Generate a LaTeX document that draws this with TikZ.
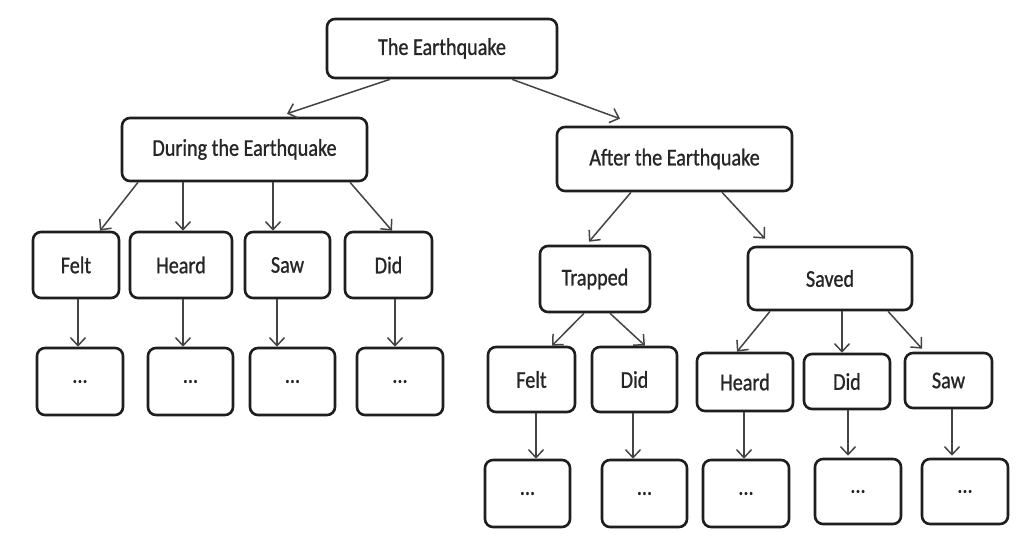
\documentclass[tikz,border=0pt]{standalone}
\usepackage{fontspec}
\setmainfont{Carlito}[FakeStretch=0.84,FakeBold=0.9]
\usetikzlibrary{arrows.meta}
\definecolor{txt}{HTML}{262626}
\definecolor{bord}{HTML}{1E1E1E}
\definecolor{arr}{HTML}{444444}
\tikzset{
  box/.style={draw=bord, line width=2.6pt, rounded corners=8pt, inner sep=0pt,
    text=txt, font=\fontsize{24}{28}\selectfont, fill=white},
  conn/.style={draw=arr, line width=1.5pt, -{Straight Barb[length=8pt,width=15pt,line width=1.5pt]}},
}
\begin{document}
\begin{tikzpicture}[x=1pt,y=-1pt]
\useasboundingbox[fill=white] (0,0) rectangle (1025,541);
% level 0
\node[box, minimum width=230pt, minimum height=59pt] (top) at (442,48.5) {The Earthquake};
% level 1
\node[box, minimum width=245pt, minimum height=63pt] (during) at (244.5,149.5) {During the Earthquake};
\node[box, minimum width=235pt, minimum height=64pt] (after) at (674.5,159) {After the Earthquake};
% left level 2
\node[box, minimum width=86pt, minimum height=66pt] (lfelt) at (76,265) {Felt};
\node[box, minimum width=102pt, minimum height=66pt] (lheard) at (181,265) {Heard};
\node[box, minimum width=85pt, minimum height=66pt] (lsaw) at (287.5,265) {Saw};
\node[box, minimum width=87pt, minimum height=66pt] (ldid) at (388.5,265) {Did};
% left level 3
\node[box, minimum width=86pt, minimum height=67pt] (ld1) at (80,381.5) {...};
\node[box, minimum width=85pt, minimum height=67pt] (ld2) at (190.5,381.5) {...};
\node[box, minimum width=85pt, minimum height=67pt] (ld3) at (292.5,381.5) {...};
\node[box, minimum width=86pt, minimum height=67pt] (ld4) at (400,381.5) {...};
% right level 2
\node[box, minimum width=110pt, minimum height=66pt] (trapped) at (595,279) {Trapped};
\node[box, minimum width=164pt, minimum height=63pt] (saved) at (830,278.5) {Saved};
% right level 3
\node[box, minimum width=87pt, minimum height=65pt] (rfelt) at (531.5,379.5) {Felt};
\node[box, minimum width=85pt, minimum height=65pt] (rdid) at (634.5,379.5) {Did};
\node[box, minimum width=96pt, minimum height=58pt] (rheard) at (745,382) {Heard};
\node[box, minimum width=86pt, minimum height=55pt] (rdidb) at (847,381.5) {Did};
\node[box, minimum width=87pt, minimum height=55pt] (rsaw) at (948.5,380.5) {Saw};
% right level 4
\node[box, minimum width=85pt, minimum height=67pt] (rd1) at (527.5,493.5) {...};
\node[box, minimum width=85pt, minimum height=67pt] (rd2) at (644.5,493.5) {...};
\node[box, minimum width=86pt, minimum height=67pt] (rd3) at (746,493.5) {...};
\node[box, minimum width=86pt, minimum height=65pt] (rd4) at (858,491.5) {...};
\node[box, minimum width=86pt, minimum height=65pt] (rd5) at (965,491.5) {...};
% connectors
\draw[conn] ([xshift=-52pt]top.south) -- ([xshift=42.5pt,yshift=3pt]during.north);
\draw[conn] ([xshift=70pt]top.south) -- ([xshift=-54.5pt,yshift=7pt]after.north);
\draw[conn] ([xshift=-106.5pt]during.south) -- ([xshift=24pt]lfelt.north);
\draw[conn] ([xshift=-61.5pt]during.south) -- ([xshift=2pt]lheard.north);
\draw[conn] ([xshift=28.5pt]during.south) -- ([xshift=-14.5pt]lsaw.north);
\draw[conn] ([xshift=105.5pt]during.south) -- ([xshift=3.5pt]ldid.north);
\draw[conn] ([xshift=2pt]lfelt.south) -- ([xshift=2pt]lfelt.south |- ld1.north);
\draw[conn] ([xshift=2pt]lheard.south) -- ([xshift=2pt]lheard.south |- ld2.north);
\draw[conn] ([xshift=-10.5pt]lsaw.south) -- ([xshift=-10.5pt]lsaw.south |- ld3.north);
\draw[conn] ([xshift=6.5pt]ldid.south) -- ([xshift=6.5pt]ldid.south |- ld4.north);
\draw[conn] ([xshift=-43.5pt]after.south) -- ([xshift=-6pt,yshift=3pt]trapped.north);
\draw[conn] ([xshift=47.5pt]after.south) -- ([xshift=-65pt,yshift=7pt]saved.north);
\draw[conn] ([xshift=-11pt]trapped.south) -- ([xshift=20.5pt]rfelt.north);
\draw[conn] ([xshift=15pt]trapped.south) -- ([xshift=10.5pt]rdid.north);
\draw[conn] ([xshift=-60pt]saved.south) -- ([xshift=-8pt]rheard.north);
\draw[conn] ([xshift=12pt]saved.south) -- ([xshift=-5pt]rdidb.north);
\draw[conn] ([xshift=58pt]saved.south) -- ([xshift=-26.5pt,yshift=3pt]rsaw.north);
\draw[conn] ([xshift=4.5pt]rfelt.south) -- ([xshift=4.5pt]rfelt.south |- rd1.north);
\draw[conn] ([xshift=-1.5pt]rdid.south) -- ([xshift=-1.5pt]rdid.south |- rd2.north);
\draw[conn] ([xshift=-1pt]rheard.south) -- ([xshift=-1pt]rheard.south |- rd3.north);
\draw[conn] ([xshift=1pt]rdidb.south) -- ([xshift=1pt,yshift=2pt]rdidb.south |- rd4.north);
\draw[conn] ([xshift=3.5pt]rsaw.south) -- ([xshift=3.5pt,yshift=2pt]rsaw.south |- rd5.north);
\end{tikzpicture}
\end{document}
